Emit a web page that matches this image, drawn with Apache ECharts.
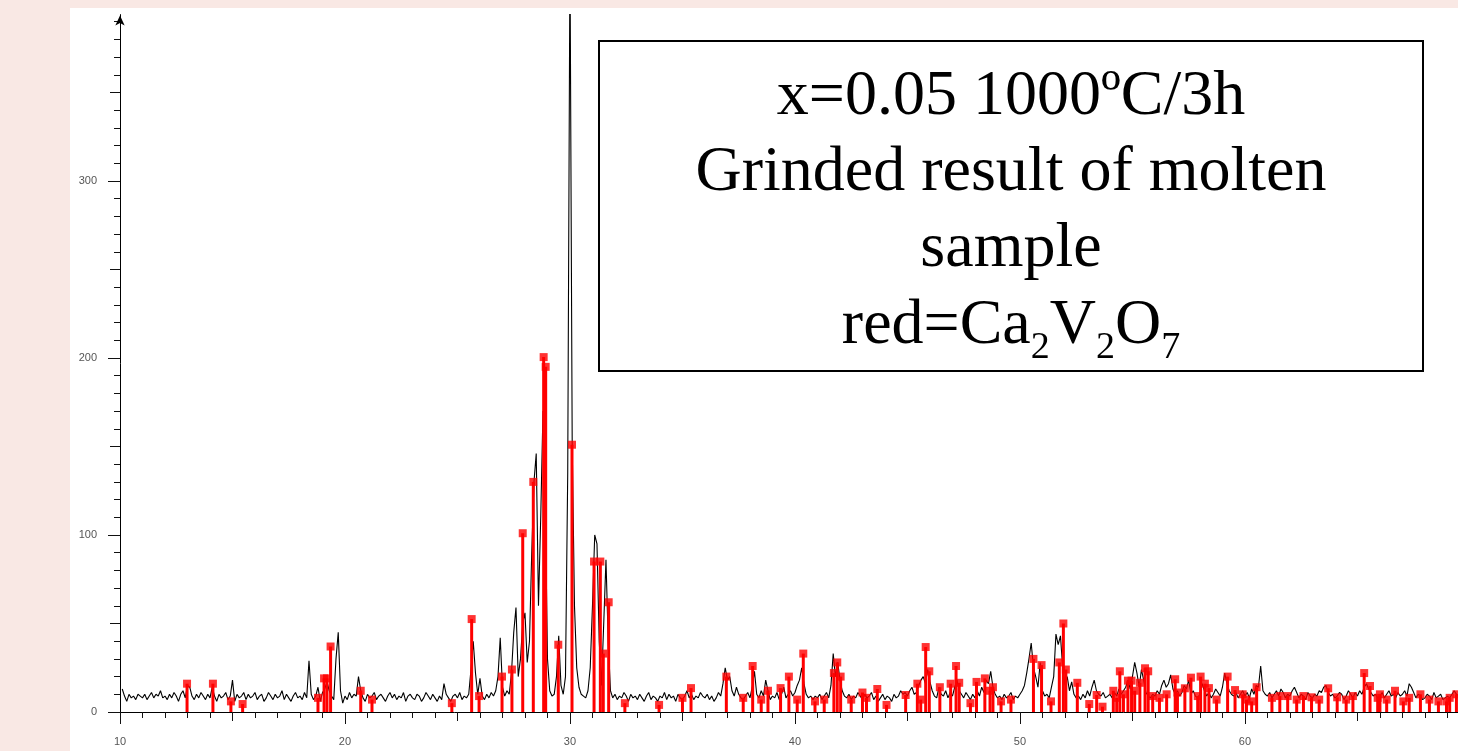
<!DOCTYPE html>
<html>
<head>
<meta charset="utf-8">
<title>XRD x=0.05</title>
<script src="https://cdn.jsdelivr.net/npm/echarts@6/dist/echarts.min.js"></script>
<style>
  html, body { margin: 0; padding: 0; background: #f9e8e4; }
  #chart { width: 1458px; height: 751px; }
</style>
</head>
<body>
<div id="chart"></div>
<script>
// measured pattern, 0.1 deg steps starting at 10.1
const startAngle = 10.1;
const angleStep = 0.1;
const lowAngle = [
  13, 9, 6, 10, 8, 9, 7, 10, 9,
  8, 10, 7, 9, 11, 8, 10, 9, 12, 8,
  9, 7, 10, 8, 11, 9, 6, 10, 12, 8,
  15, 14, 9, 7, 10, 8, 11, 9, 7, 10,
  8, 14, 9, 6, 10, 8, 9, 11, 7, 9,
  18, 6, 10, 8, 9, 11, 7, 10, 8, 9,
  11, 7, 9, 10, 6, 8, 11, 9, 7, 10,
  8, 9, 12, 7, 10, 8, 6, 9, 11, 8,
  9, 7, 11, 8, 29, 10, 7, 9, 14, 6,
  11, 13, 17, 12, 9, 7, 30, 45, 12, 5,
  9, 7, 11, 8, 10, 9, 20, 12, 8, 6,
  10, 8, 9, 11, 7, 9, 10, 8, 6, 9,
  11, 8, 10, 7, 9, 8, 11, 6, 9, 10,
  8, 7, 10, 9, 6, 8, 11, 9, 7, 10,
  8, 6, 9, 7, 16, 10, 8, 6, 9, 10
];
const peakRegion = [
  8, 11, 7, 9, 8, 10, 24, 40, 22, 10,
  19, 9, 7, 10, 8, 11, 9, 12, 20, 42,
  14, 9, 12, 10, 22, 45, 59, 20, 30, 50,
  56, 28, 40, 90, 130, 146, 60, 110, 170, 120,
  30, 12, 9, 10, 20, 43, 15, 10, 20, 135,
  430, 150, 60, 25, 14, 10, 9, 8, 12, 25,
  60, 100, 95, 40, 15, 50, 86, 40, 12, 8,
  10, 7, 9, 8, 11, 9, 6, 10, 8, 9,
  7, 10, 8, 6, 9, 11, 7, 9, 8, 6,
  9, 8, 11, 7, 10, 8, 9, 6, 10, 8
];
const highAngle = [
  7, 9, 12, 8, 10, 7, 9, 8, 11, 9,
  8, 10, 7, 9, 6, 8, 11, 9, 16, 25,
  18, 20, 12, 9, 14, 10, 8, 7, 9, 11,
  8, 14, 23, 10, 8, 12, 9, 18, 12, 7,
  9, 8, 11, 7, 10, 14, 8, 10, 12, 9,
  11, 15, 18, 25, 16, 10, 8, 9, 7, 9,
  8, 10, 7, 9, 11, 8, 15, 33, 20, 28,
  18, 12, 9, 8, 10, 7, 9, 8, 11, 9,
  7, 10, 8, 9, 11, 7, 9, 6, 8, 10,
  7, 9, 8, 6, 10, 8, 9, 12, 10, 11,
  9, 12, 14, 10, 11, 15, 18, 20, 16, 24,
  17, 12, 9, 8, 14, 10, 9, 12, 8, 11,
  9, 14, 18, 12, 10, 8, 11, 9, 7, 10,
  8, 12, 9, 14, 11, 18, 16, 23, 14, 10,
  8, 9, 7, 10, 8, 9, 11, 7, 9, 8,
  10, 12, 15, 22, 30, 39, 25, 20, 14, 28,
  12, 9, 10, 8, 14, 20, 44, 38, 43, 25,
  15, 20, 12, 17, 10, 8, 9, 7, 10, 8,
  12, 9, 14, 18, 12, 10, 9, 11, 8, 9,
  10, 8, 11, 9, 13, 10, 12, 14, 18, 13,
  20, 28, 22, 14, 24, 18, 11, 9, 8, 10,
  9, 12, 10, 15, 18, 14, 16, 21, 13, 10,
  12, 9, 11, 15, 13, 18, 10, 12, 9, 8,
  10, 16, 12, 9, 11, 8, 10, 13, 11, 9,
  14, 22, 16, 12, 10, 9, 11, 8, 10, 12,
  9, 11, 8, 13, 10, 15, 14, 26, 12, 10,
  9, 11, 8, 10, 12, 9, 13, 11, 8, 10,
  9, 12, 14, 11, 8, 10, 9, 7, 11, 9,
  8, 10, 9, 12, 11, 14, 15, 11, 9, 10,
  8, 9, 11, 10, 7, 9, 12, 10, 8, 11,
  9, 12, 10, 14, 16, 13, 11, 9, 10, 8,
  9, 11, 8, 10, 12, 9, 10, 8, 11, 9,
  10, 12, 9, 16, 14, 11, 8, 10, 9, 7,
  8, 10, 9, 7, 11, 8, 9, 10, 7, 8,
  9, 8, 10, 12, 10, 9
];

// Ca2V2O7 reference lines (2theta, intensity)
const refAngles = [
  12.98, 14.13, 14.93, 15.45, 18.8, 19.07, 19.2, 19.36, 20.7, 21.2,
  24.75, 25.63, 25.96, 26.98, 27.42, 27.9, 28.37, 28.83, 28.92, 29.48,
  30.09, 31.07, 31.35, 31.48, 31.72, 32.44, 33.96, 35.0, 35.38, 36.95,
  37.7, 38.12, 38.5, 38.8, 39.36, 39.73, 40.1, 40.37, 40.89, 41.3,
  41.73, 41.88, 42.03, 42.5, 43.0, 43.18, 43.66, 44.07, 44.92, 45.44,
  45.59, 45.81, 45.97, 46.44, 46.92, 47.16, 47.3, 47.8, 48.07, 48.44,
  48.67, 48.8, 49.16, 49.6, 50.6, 50.96, 51.38, 51.75, 51.93, 52.04,
  52.55, 53.08, 53.41, 53.67, 54.15, 54.3, 54.44, 54.6, 54.8, 54.96,
  55.1, 55.33, 55.56, 55.7, 55.9, 56.2, 56.52, 56.9, 57.0, 57.33,
  57.6, 57.9, 58.03, 58.22, 58.4, 58.74, 59.23, 59.56, 59.9, 60.07,
  60.3, 60.52, 61.2, 61.55, 61.9, 62.3, 62.6, 62.96, 63.3, 63.7,
  64.1, 64.5, 64.8, 65.3, 65.56, 65.9, 66.0, 66.3, 66.67, 67.04,
  67.3, 67.8, 68.2, 68.6, 68.96, 69.1, 69.4
];
const refIntensity = [
  16, 16, 6, 4.5, 8, 19, 19, 37, 12, 7,
  5, 52.5, 9, 20, 24, 101, 130, 200.5, 195, 38,
  151, 85, 85, 33, 62, 5, 4, 8, 13.5, 20,
  8, 26, 7, 12, 13.5, 20, 7, 33, 6, 7,
  22, 28, 20, 7, 11, 8, 13, 4, 9.6, 16,
  7, 36.7, 23, 14, 16, 26, 16.5, 5, 17, 19,
  12, 14, 6, 7, 30, 26.5, 6, 28, 50, 24,
  16.5, 4.5, 9.6, 3, 12, 8, 23, 10, 17.7, 17.7,
  12, 16.5, 24.7, 23, 9, 8, 10, 18.5, 11, 13.4,
  19.4, 9, 20, 16, 13.5, 7, 20, 12.4, 10, 7,
  6, 14, 8, 9, 9, 7, 9, 8.3, 7, 13.4,
  8.3, 7, 9, 22, 14.7, 8, 10, 7, 12, 6,
  8, 10, 7, 6, 6, 8, 10
];

// axis ticks
const xMinorTicks = [];
for (let v = 10; v <= 69; v++) xMinorTicks.push(v);
const xMidTicks = [15, 25, 35, 45, 55, 65];
const xMajorTicks = [10, 20, 30, 40, 50, 60];
const yMinorTicks = [];
for (let v = 0; v <= 390; v += 10) yMinorTicks.push(v);
const yMidTicks = [50, 150, 250, 350];
const yMajorTicks = [0, 100, 200, 300];

const pattern = lowAngle.concat(peakRegion, highAngle).map(function (v, i) {
  return [+(startAngle + i * angleStep).toFixed(2), v];
});
const refData = refAngles.map(function (a, i) { return [a, refIntensity[i]]; });

const chart = echarts.init(document.getElementById('chart'));

const xBase = { type: 'value', min: 10, max: 69.47, position: 'bottom', splitLine: { show: false } };
const yBase = { type: 'value', min: 0, max: 394, position: 'left', splitLine: { show: false } };
const tickStyle = { color: '#111', width: 1 };
const labelStyle = { color: '#555', fontSize: 11, fontFamily: 'Liberation Sans, Arial, sans-serif' };
const serif = '"Liberation Serif", "Times New Roman", serif';

const option = {
  animation: false,
  backgroundColor: '#f9e8e4',
  grid: { left: 120, right: 0, top: 14.6, bottom: 39 },
  xAxis: [
    Object.assign({}, xBase, {
      axisLine: { show: true, lineStyle: { color: '#000', width: 1 } },
      axisTick: { show: true, length: 6, customValues: xMinorTicks, lineStyle: tickStyle },
      axisLabel: { show: false }
    }),
    Object.assign({}, xBase, {
      axisLine: { show: false },
      axisTick: { show: true, length: 9, customValues: xMidTicks, lineStyle: tickStyle },
      axisLabel: { show: false }
    }),
    Object.assign({}, xBase, {
      axisLine: { show: false },
      axisTick: { show: true, length: 12, customValues: xMajorTicks, lineStyle: tickStyle },
      axisLabel: Object.assign({ show: true, margin: 24, customValues: xMajorTicks }, labelStyle)
    })
  ],
  yAxis: [
    Object.assign({}, yBase, {
      axisLine: {
        show: true,
        lineStyle: { color: '#000', width: 1 },
        symbol: ['none', 'arrow'],
        symbolSize: [7, 10],
        symbolOffset: [0, -1]
      },
      axisTick: { show: true, length: 6, customValues: yMinorTicks, lineStyle: tickStyle },
      axisLabel: { show: false }
    }),
    Object.assign({}, yBase, {
      axisLine: { show: false },
      axisTick: { show: true, length: 10, customValues: yMidTicks, lineStyle: tickStyle },
      axisLabel: { show: false }
    }),
    Object.assign({}, yBase, {
      axisLine: { show: false },
      axisTick: { show: true, length: 12, customValues: yMajorTicks, lineStyle: tickStyle },
      axisLabel: Object.assign({ show: true, margin: 23, customValues: yMajorTicks }, labelStyle)
    })
  ],
  graphic: [
    {
      type: 'rect',
      z: -10,
      silent: true,
      shape: { x: 70, y: 8, width: 1388, height: 743 },
      style: { fill: '#ffffff' }
    },
    {
      type: 'rect',
      z: 10,
      shape: { x: 599, y: 41, width: 824, height: 330 },
      style: { fill: '#ffffff', stroke: '#000', lineWidth: 2 }
    },
    {
      type: 'text', z: 11, x: 1011, y: 97,
      style: { text: 'x=0.05 1000ºC/3h', font: '64px ' + serif, fill: '#000', textAlign: 'center', textVerticalAlign: 'middle' }
    },
    {
      type: 'text', z: 11, x: 1011, y: 173,
      style: { text: 'Grinded result of molten', font: '64px ' + serif, fill: '#000', textAlign: 'center', textVerticalAlign: 'middle' }
    },
    {
      type: 'text', z: 11, x: 1011, y: 249,
      style: { text: 'sample', font: '64px ' + serif, fill: '#000', textAlign: 'center', textVerticalAlign: 'middle' }
    },
    {
      type: 'text', z: 11, x: 1011, y: 326,
      style: {
        text: '{n|red=Ca}{s|2}{n|V}{s|2}{n|O}{s|7}',
        fill: '#000',
        textAlign: 'center',
        textVerticalAlign: 'middle',
        rich: {
          n: { fontSize: 64, fontFamily: serif, lineHeight: 83, fill: '#000' },
          s: { fontSize: 38, fontFamily: serif, lineHeight: 36, verticalAlign: 'bottom', fill: '#000' }
        }
      }
    }
  ],
  series: [
    {
      type: 'line',
      xAxisIndex: 0,
      yAxisIndex: 0,
      data: pattern,
      showSymbol: false,
      symbol: 'none',
      clip: true,
      lineStyle: { color: '#000', width: 1.1 },
      z: 2
    },
    {
      type: 'bar',
      xAxisIndex: 0,
      yAxisIndex: 0,
      data: refData,
      barWidth: 3,
      itemStyle: { color: '#ff0000' },
      z: 3
    },
    {
      type: 'scatter',
      xAxisIndex: 0,
      yAxisIndex: 0,
      data: refData,
      symbol: 'rect',
      symbolSize: 8,
      itemStyle: { color: '#ff0000' },
      z: 4
    }
  ]
};

chart.setOption(option);
</script>
</body>
</html>
